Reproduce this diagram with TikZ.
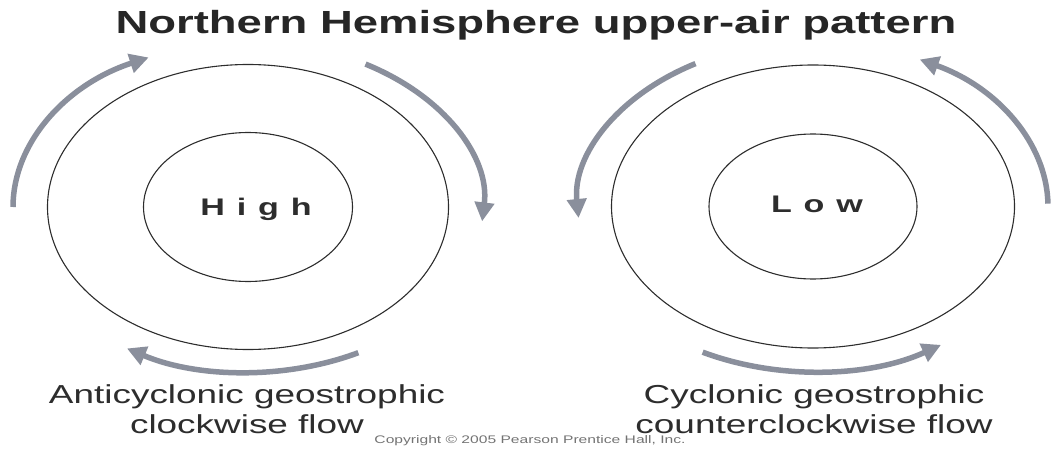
\documentclass[tikz,border=0pt]{standalone}
\usepackage{fontspec}
\setmainfont{Liberation Sans}
\usetikzlibrary{shapes.geometric,arrows.meta}
\definecolor{flowgray}{RGB}{138,143,156}
\definecolor{inkgray}{RGB}{45,45,45}
\begin{document}
\begin{tikzpicture}[x=1pt,y=1pt,
  ringnode/.style={draw=inkgray,ellipse,line width=1.1pt,inner sep=0pt},
  flowarrow/.style={draw=flowgray,line width=5.5pt,-{Triangle[length=19pt,width=19pt]}},
  centernode/.style={font=\fontsize{24}{24}\selectfont\bfseries\addfontfeature{LetterSpace=35},text=inkgray,xscale=1.42},
  labelnode/.style={font=\fontsize{26}{30}\selectfont,text=inkgray,align=center,xscale=1.42,anchor=base}]
\useasboundingbox (0,0) rectangle (1057,448);
\coordinate (hc) at (248,241);
\coordinate (lc) at (813,241.5);
% title
\node[font=\fontsize{32}{32}\selectfont\bfseries,text=black!85,xscale=1.42,anchor=base] (title) at (536,414)
  {Northern Hemisphere upper-air pattern};
% high pressure side
\node[ringnode,minimum width=401pt,minimum height=285pt] (hout) at (hc) {};
\node[ringnode,minimum width=209pt,minimum height=149pt] (hin) at (hc) {};
\node[centernode] (htext) at ([xshift=8pt,yshift=-2pt]hc) {High};
\draw[flowarrow,shift={(hc)}] (180:235 and 165) arc[start angle=180,end angle=115,x radius=235,y radius=165];
\draw[flowarrow,shift={(hc)}] (60:235 and 165) arc[start angle=60,end angle=-5,x radius=235,y radius=165];
\draw[flowarrow,shift={(hc)}] (-62:235 and 165) arc[start angle=-62,end angle=-121,x radius=235,y radius=165];
\node[labelnode] (hlabel) at (247,15) {Anticyclonic geostrophic\\clockwise flow};
% low pressure side
\node[ringnode,minimum width=403pt,minimum height=283pt] (lout) at (lc) {};
\node[ringnode,minimum width=208pt,minimum height=145pt] (lin) at (lc) {};
\node[centernode] (ltext) at ([xshift=4pt,yshift=2pt]lc) {Low};
\draw[flowarrow,shift={(lc)}] (120:235 and 165) arc[start angle=120,end angle=184,x radius=235,y radius=165];
\draw[flowarrow,shift={(lc)}] (1:235 and 165) arc[start angle=1,end angle=63,x radius=235,y radius=165];
\draw[flowarrow,shift={(lc)}] (-118:235 and 165) arc[start angle=-118,end angle=-57,x radius=235,y radius=165];
\node[labelnode] (llabel) at (814,15) {Cyclonic geostrophic\\counterclockwise flow};
% copyright line
\node[font=\fontsize{11}{11}\selectfont,text=black!55,xscale=1.42,anchor=base] (copy) at (530,5)
  {Copyright \textcopyright{} 2005 Pearson Prentice Hall, Inc.};
\end{tikzpicture}
\end{document}
